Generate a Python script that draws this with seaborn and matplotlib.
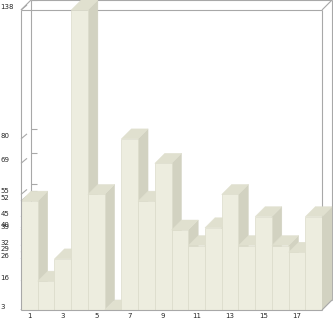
import matplotlib
matplotlib.use("Agg")
import matplotlib.pyplot as plt
import seaborn as sns
import pandas as pd
from matplotlib.patches import Polygon
from matplotlib.lines import Line2D

# ---- data ----
categories = [str(i) for i in range(1, 19)]
values = [52, 16, 26, 138, 55, 3, 80, 52, 69, 39, 32, 40, 55, 32, 45, 32, 29, 45]
y_ticks = [3, 16, 26, 29, 32, 39, 40, 45, 52, 55, 69, 80, 138]
x_tick_pos = [0, 2, 4, 6, 8, 10, 12, 14, 16]
x_tick_labels = ["1", "3", "5", "7", "9", "11", "13", "15", "17"]

# ---- style ----
FRONT = "#EDEDDF"
TOP = "#E0E0CF"
SIDE = "#D2D2C1"
EDGE = "#DCDCCB"
FRAME = "#A8A8A8"

W, H, DPI = 333, 321, 100
sns.set_style("white")
plt.rcParams["font.family"] = ["DejaVu Sans"]
fig = plt.figure(figsize=(W / DPI, H / DPI), dpi=DPI)
fig.patch.set_facecolor("white")

# front plane of the 3D box in pixels: x 21..322, y 10..310 (from top)
L, R, T, B = 21, 322, 10, 310
ax = fig.add_axes([L / W, (H - B) / H, (R - L) / W, (B - T) / H])
ax.set_facecolor("none")

df = pd.DataFrame({"cat": categories, "val": values})
sns.barplot(data=df, x="cat", y="val", color=FRONT, width=1.0, saturation=1,
            edgecolor=EDGE, linewidth=0.5, ax=ax, errorbar=None)

ymin, ymax = 3, 138
xmin, xmax = -0.5, len(categories) - 0.5
ax.set_xlim(xmin, xmax)
ax.set_ylim(ymin, ymax)

# depth offsets (10 px right, 10 px up) in data units
DP = 10
dx = DP * (xmax - xmin) / (R - L)
dy = DP * (ymax - ymin) / (B - T)
px_x = (xmax - xmin) / (R - L)
px_y = (ymax - ymin) / (B - T)

for i, p in enumerate(ax.patches):
    x0 = p.get_x()
    w = p.get_width()
    h = p.get_y() + p.get_height()
    base = max(p.get_y(), ymin)
    x1 = x0 + w
    p.set_zorder(3 + 2 * i)
    side = Polygon([(x1, base), (x1 + dx, base + dy), (x1 + dx, h + dy), (x1, h)],
                   closed=True, facecolor=SIDE, edgecolor=SIDE, linewidth=0.3,
                   zorder=2 + 2 * i, clip_on=False)
    top = Polygon([(x0, h), (x1, h), (x1 + dx, h + dy), (x0 + dx, h + dy)],
                  closed=True, facecolor=TOP, edgecolor=TOP, linewidth=0.3,
                  zorder=2 + 2 * i, clip_on=False)
    ax.add_patch(side)
    ax.add_patch(top)


def seg(p0, p1, z=1):
    ax.add_line(Line2D([p0[0], p1[0]], [p0[1], p1[1]], color=FRAME, lw=0.8,
                       zorder=z, clip_on=False, solid_capstyle="butt"))


# back box
seg((xmin + dx, ymax + dy), (xmax + dx, ymax + dy))
seg((xmin + dx, ymin + dy), (xmin + dx, ymax + dy))
seg((xmax + dx, ymin + dy), (xmax + dx, ymax + dy))
seg((xmin + dx, ymin + dy), (xmax + dx, ymin + dy))
# front box
seg((xmin, ymax), (xmax, ymax))
seg((xmax, ymin), (xmax, ymax))
seg((xmin, ymin), (xmin, ymax), z=100)
seg((xmin, ymin), (xmax, ymin), z=100)
# connectors
seg((xmin, ymax), (xmin + dx, ymax + dy))
seg((xmax, ymax), (xmax + dx, ymax + dy))
seg((xmax, ymin), (xmax + dx, ymin + dy), z=100)
seg((xmin, ymin), (xmin + dx, ymin + dy))

# tick marks: back wall and diagonal
for v in y_ticks:
    seg((xmin + dx, v + dy), (xmin + dx + 6 * px_x, v + dy))
    seg((xmin, v), (xmin + 6 * px_x, v + 5 * px_y))

for s in ax.spines.values():
    s.set_visible(False)
ax.grid(False)
ax.set_xlabel("")
ax.set_ylabel("")

ax.set_yticks(y_ticks)
ax.set_yticklabels([str(v) for v in y_ticks])
ax.tick_params(axis="y", length=0, pad=(L - 0.5) * 72 / DPI, labelsize=5)
for lab in ax.get_yticklabels():
    lab.set_horizontalalignment("left")
    lab.set_verticalalignment("bottom")

ax.set_xticks(x_tick_pos)
ax.set_xticklabels(x_tick_labels)
ax.tick_params(axis="x", length=0, pad=3 * 72 / DPI, labelsize=5)

fig.savefig("out.png", dpi=DPI, facecolor="white")
